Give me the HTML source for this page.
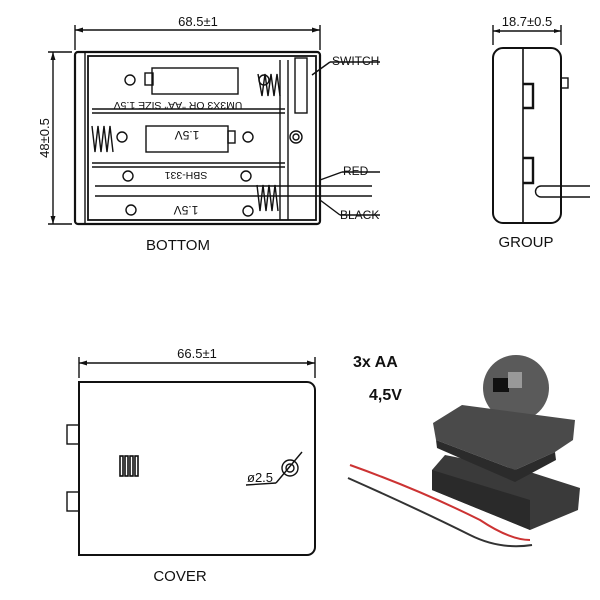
<!DOCTYPE html>
<html><head><style>body{margin:0;background:#fff}svg{display:block}text{font-family:"Liberation Sans",sans-serif;fill:#111}</style></head><body>
<svg width="600" height="600" viewBox="0 0 600 600" xmlns="http://www.w3.org/2000/svg">
<g stroke="#111" fill="none" stroke-width="1.4">
<line x1="75" y1="25" x2="75" y2="50"/><line x1="320" y1="25" x2="320" y2="50"/>
<line x1="75" y1="30" x2="320" y2="30"/>
<line x1="48" y1="52" x2="72" y2="52"/><line x1="48" y1="224" x2="72" y2="224"/>
<line x1="53" y1="52" x2="53" y2="224"/>
<rect x="75" y="52" width="245" height="172" rx="3" stroke-width="2.2"/>
<line x1="85" y1="52" x2="85" y2="224"/>
<rect x="88" y="56" width="228" height="164" stroke-width="1.8"/>
<line x1="92" y1="109" x2="285" y2="109"/><line x1="92" y1="113" x2="285" y2="113"/>
<line x1="92" y1="163" x2="285" y2="163"/><line x1="92" y1="167" x2="285" y2="167"/>
<line x1="95" y1="186" x2="320" y2="186"/><line x1="95" y1="196" x2="320" y2="196"/>
<line x1="320" y1="186" x2="372" y2="186"/><line x1="320" y1="196" x2="372" y2="196"/>
<line x1="280" y1="60" x2="280" y2="220"/><line x1="288" y1="60" x2="288" y2="220"/>
<rect x="152" y="68" width="86" height="26"/><rect x="145" y="73" width="8" height="12"/>
<rect x="146" y="126" width="82" height="26"/><rect x="228" y="131" width="7" height="12"/>
<rect x="295" y="58" width="12" height="55"/>
<circle cx="296" cy="137" r="6"/><circle cx="296" cy="137" r="3"/>
<line x1="320" y1="180" x2="342" y2="172"/><line x1="342" y1="172" x2="380" y2="172"/>
<line x1="320" y1="200" x2="340" y2="215"/><line x1="340" y1="215" x2="380" y2="215"/>
<line x1="312" y1="75" x2="330" y2="62"/><line x1="330" y1="62" x2="380" y2="62"/>
<path d="M258 74 l4 22 l3 -22 l3 22 l3 -22 l3 22 l3 -22 l3 22" /><path d="M92 126 l3 26 l3 -26 l3 26 l3 -26 l3 26 l3 -26 l3 26"/><path d="M257 185 l3 26 l3 -26 l3 26 l3 -26 l3 26 l3 -26 l3 26"/>
<circle cx="130" cy="80" r="5"/><circle cx="264" cy="80" r="5"/><circle cx="122" cy="137" r="5"/><circle cx="248" cy="137" r="5"/><circle cx="128" cy="176" r="5"/><circle cx="246" cy="176" r="5"/><circle cx="131" cy="210" r="5"/><circle cx="248" cy="211" r="5"/>
<line x1="493" y1="25" x2="493" y2="45"/><line x1="561" y1="25" x2="561" y2="45"/><line x1="493" y1="31" x2="561" y2="31"/>
<rect x="493" y="48" width="68" height="175" rx="10" stroke-width="2"/>
<line x1="523" y1="48" x2="523" y2="223" stroke-width="1.6"/>
<rect x="561" y="78" width="7" height="10"/>
<path d="M523 84 h10 v24 h-10" stroke-width="2.4"/><path d="M523 158 h10 v25 h-10" stroke-width="2.4"/>
<path d="M590 186 H541 a5.5 5.5 0 0 0 0 11 H590"/>
<line x1="79" y1="357" x2="79" y2="378"/><line x1="315" y1="357" x2="315" y2="378"/><line x1="79" y1="363" x2="315" y2="363"/>
<path d="M79 382 H307 a8 8 0 0 1 8 8 V547 a8 8 0 0 1 -8 8 H79 Z" stroke-width="2"/>
<rect x="67" y="425" width="12" height="19"/><rect x="67" y="492" width="12" height="19"/>
<g stroke-width="1.6"><rect x="120" y="456" width="3" height="20"/><rect x="125" y="456" width="3" height="20"/><rect x="130" y="456" width="3" height="20"/><rect x="135" y="456" width="3" height="20"/></g>
<circle cx="290" cy="468" r="8"/><circle cx="290" cy="468" r="4"/>
<line x1="302" y1="452" x2="276" y2="483"/><line x1="276" y1="483" x2="246" y2="485"/>
</g>
<g fill="#111">
<path d="M75 30 l8 -2.5 v5z M320 30 l-8 -2.5 v5z M53 52 l-2.5 8 h5z M53 224 l-2.5 -8 h5z M493 31 l7 -2 v4z M561 31 l-7 -2 v4z M79 363 l8 -2.5 v5z M315 363 l-8 -2.5 v5z"/>
</g>
<g font-size="13">
<text x="198" y="26" text-anchor="middle">68.5±1</text>
<text x="49" y="138" text-anchor="middle" transform="rotate(-90 49 138)">48±0.5</text>
<text x="332" y="65" font-size="12">SWITCH</text>
<text x="343" y="175" font-size="12">RED</text>
<text x="340" y="219" font-size="12">BLACK</text>
<text x="178" y="110" font-size="10.5" text-anchor="middle" transform="rotate(180 178 106)">UM3X3 OR "AA" SIZE 1.5V</text>
<text x="187" y="141" font-size="12" text-anchor="middle" transform="rotate(180 187 136)">1.5V</text>
<text x="186" y="180" font-size="10.5" text-anchor="middle" transform="rotate(180 186 176)">SBH-331</text>
<text x="186" y="216" font-size="12" text-anchor="middle" transform="rotate(180 186 211)">1.5V</text>
<text x="178" y="250" font-size="15" text-anchor="middle">BOTTOM</text>
<text x="527" y="26" text-anchor="middle">18.7±0.5</text>
<text x="526" y="247" font-size="15" text-anchor="middle">GROUP</text>
<text x="197" y="358" text-anchor="middle">66.5±1</text>
<text x="247" y="482">ø2.5</text>
<text x="180" y="581" font-size="15" text-anchor="middle">COVER</text>
<text x="353" y="367" font-size="16" font-weight="bold">3x AA</text>
<text x="369" y="400" font-size="16" font-weight="bold">4,5V</text>
</g>
<circle cx="516" cy="388" r="33" fill="#5a5a5a"/>
<rect x="493" y="378" width="16" height="14" fill="#111"/><rect x="508" y="372" width="14" height="16" fill="#999"/>
<polygon points="432,470 445,455 530,472 580,488 578,510 530,530 432,490" fill="#3a3a3a"/>
<polygon points="432,470 530,500 530,530 432,490" fill="#2a2a2a"/>
<polygon points="433,423 462,405 575,420 573,440 555,452 515,470 436,440" fill="#4a4a4a"/>
<polygon points="436,440 515,470 555,452 556,460 515,482 437,448" fill="#2b2b2b"/>
<path d="M350 465 Q420 490 480 520 Q510 540 530 540" stroke="#c33" stroke-width="2" fill="none"/>
<path d="M348 478 Q420 510 470 535 Q500 550 532 545" stroke="#333" stroke-width="2" fill="none"/>
</svg>
</body></html>
